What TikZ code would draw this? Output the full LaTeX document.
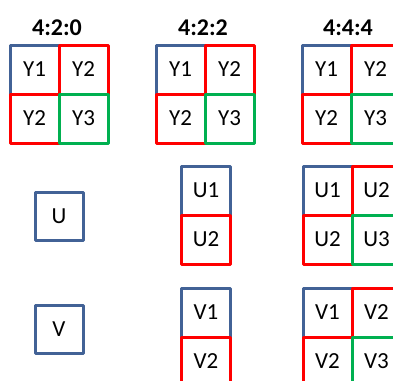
\documentclass[tikz,border=0pt]{standalone}
\usepackage{fontspec}
\setmainfont{Carlito}
\definecolor{sampleblue}{RGB}{66,98,150}
\definecolor{samplered}{RGB}{255,0,0}
\definecolor{samplegreen}{RGB}{0,176,80}
\begin{document}
\begin{tikzpicture}[x=1pt,y=-1pt,
  cell/.style={minimum size=49pt,inner sep=0pt,line width=3pt,line join=round,
    font=\fontsize{23}{25}\selectfont},
  bluecell/.style={cell,draw=sampleblue},
  redcell/.style={cell,draw=samplered},
  greencell/.style={cell,draw=samplegreen},
  title/.style={font=\fontsize{24}{26}\selectfont\bfseries}]
\useasboundingbox(0,0)rectangle(393,380);
\clip(0,0)rectangle(393,380);
% headings
\node[title](h420) at (57,28){4:2:0};
\node[title](h422) at (203,28){4:2:2};
\node[title](h444) at (348,28){4:4:4};
% luma, 4:2:0
\node[bluecell](y420a) at (34.5,69.5){Y1};
\node[redcell](y420b) at (83.5,69.5){Y2};
\node[redcell](y420c) at (34.5,118.5){Y2};
\node[greencell](y420d) at (83.5,118.5){Y3};
% luma, 4:2:2
\node[bluecell](y422a) at (180.5,69.5){Y1};
\node[redcell](y422b) at (229.5,69.5){Y2};
\node[redcell](y422c) at (180.5,118.5){Y2};
\node[greencell](y422d) at (229.5,118.5){Y3};
% luma, 4:4:4
\node[bluecell](y444a) at (326.5,69.5){Y1};
\node[redcell](y444b) at (375.5,69.5){Y2};
\node[redcell](y444c) at (326.5,118.5){Y2};
\node[greencell](y444d) at (375.5,118.5){Y3};
% U samples
\node[bluecell,minimum size=48pt](u420) at (59,216){U};
\node[bluecell](u422a) at (206,190.5){U1};
\node[redcell](u422b) at (206,239.5){U2};
\node[bluecell](u444a) at (327.5,190.5){U1};
\node[redcell](u444b) at (376.5,190.5){U2};
\node[redcell](u444c) at (327.5,239.5){U2};
\node[greencell](u444d) at (376.5,239.5){U3};
% V samples
\node[bluecell,minimum size=48pt](v420) at (59,329.5){V};
\node[bluecell](v422a) at (206,312.5){V1};
\node[redcell](v422b) at (206,361.5){V2};
\node[bluecell](v444a) at (327.5,312.5){V1};
\node[redcell](v444b) at (376.5,312.5){V2};
\node[redcell](v444c) at (327.5,361.5){V2};
\node[greencell](v444d) at (376.5,361.5){V3};
\end{tikzpicture}
\end{document}
